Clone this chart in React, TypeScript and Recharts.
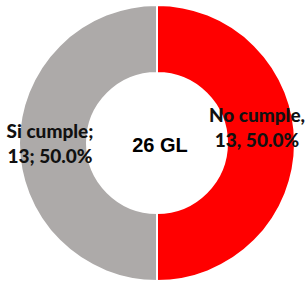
import { PieChart, Pie, Cell } from "recharts";

const categories = ["No cumple", "Si cumple"];
const counts = [13, 13];
const percents = ["50.0%", "50.0%"];
const separators = [",", ";"];
const colors = ["#FF0000", "#ADAAA9"];
const centerLabel = "26 GL";

const data = categories.map((name, i) => ({ name, value: counts[i] }));

const RADIAN = Math.PI / 180;

function SliceLabel(props: any) {
  const { cx, cy, midAngle, innerRadius, outerRadius, index } = props;
  const r = (innerRadius + outerRadius) / 2;
  const x = cx + r * Math.cos(-midAngle * RADIAN);
  const y = cy + r * Math.sin(-midAngle * RADIAN);
  const right = index === 0;
  const sep = separators[index];
  const lx = x + (right ? -4 : -3);
  const ly = y + (right ? -21 : -5);
  return (
    <text
      x={lx}
      y={ly}
      textAnchor="middle"
      fill="#111"
      fontFamily="Lato"
      fontWeight={900}
      fontSize={19}
    >
      <tspan x={lx}>{`${categories[index]}${sep}`}</tspan>
      <tspan x={lx} dy={25}>{`${counts[index]}${sep} ${percents[index]}`}</tspan>
    </text>
  );
}

export default function App() {
  return (
    <div style={{ width: 306, height: 282, background: "#fff" }}>
      <style>{`body{margin:0}`}</style>
      <PieChart width={306} height={282} margin={{ top: 0, right: 0, bottom: 0, left: 0 }}>
        <Pie
          data={data}
          dataKey="value"
          nameKey="name"
          cx={157}
          cy={143}
          innerRadius={70}
          outerRadius={138}
          startAngle={90}
          endAngle={-270}
          stroke="#fff"
          strokeWidth={2}
          label={SliceLabel}
          labelLine={false}
          isAnimationActive={false}
        >
          {data.map((d, i) => (
            <Cell key={d.name} fill={colors[i]} />
          ))}
        </Pie>
        <text
          x={160}
          y={152}
          textAnchor="middle"
          fill="#000"
          fontFamily="Liberation Sans"
          fontWeight={700}
          fontSize={20}
        >
          {centerLabel}
        </text>
      </PieChart>
    </div>
  );
}
